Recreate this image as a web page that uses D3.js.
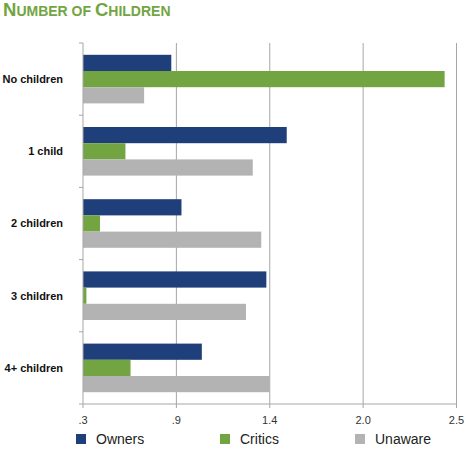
<!DOCTYPE html>
<html><head><meta charset="utf-8">
<script src="https://cdn.jsdelivr.net/npm/d3@7"></script>
<style>body{margin:0;background:#fff}svg{display:block;font-family:"Liberation Sans",Arial,Helvetica,sans-serif}</style>
</head><body><svg id="c" width="466" height="451"></svg>
<script>
const categories = ["No children","1 child","2 children","3 children","4+ children"];
const seriesNames = ["Owners","Critics","Unaware"];
const owners  = [0.82, 1.50, 0.88, 1.38, 1.00];
const critics = [2.43, 0.55, 0.40, 0.32, 0.58];
const unaware = [0.66, 1.30, 1.35, 1.26, 1.40];
const tickValues = [0.3, 0.85, 1.4, 1.95, 2.5];
const tickLabels = [".3", ".9", "1.4", "2.0", "2.5"];
const colors = ["#1f3f7b", "#72a541", "#b3b3b3"];

const seriesData = [owners, critics, unaware];
const svg = d3.select("#c");
const mLeft = 83, mRight = 456.5, mTop = 43, mBottom = 404;

const x = d3.scaleLinear().domain([0.3, 2.5]).range([mLeft, mRight]);
const y = d3.scaleBand().domain(categories).range([mTop, mBottom]);
const y1 = d3.scaleBand().domain(seriesNames).range([11.8, y.bandwidth() - 11.8]);

// title
const t = svg.append("text").attr("x", 3).attr("y", 16).attr("fill", "#72a541")
  .attr("font-weight", "bold");
[["N",18.5],["UMBER OF ",14],["C",18.5],["HILDREN",14]].forEach(([s,f]) =>
  t.append("tspan").attr("font-size", f).text(s));

// gridlines
svg.append("g").selectAll("line").data(tickValues.slice(1)).join("line")
  .attr("x1", d => x(d)).attr("x2", d => x(d))
  .attr("y1", mTop).attr("y2", mBottom + 4)
  .attr("stroke", "#a6a6a6").attr("stroke-width", 1);

// bars
const g = svg.append("g").selectAll("g").data(categories).join("g")
  .attr("transform", d => `translate(0,${y(d)})`);
g.selectAll("rect").data((d, i) => seriesNames.map((s, j) => ({s, v: seriesData[j][i], j})))
  .join("rect")
  .attr("x", x(0.3)).attr("y", d => y1(d.s))
  .attr("width", d => x(d.v) - x(0.3)).attr("height", y1.bandwidth())
  .attr("fill", d => colors[d.j]);

// y axis
svg.append("line").attr("x1", mLeft).attr("x2", mLeft).attr("y1", mTop).attr("y2", mBottom + 4)
  .attr("stroke", "#a6a6a6");
const bounds = categories.map(c => y(c)).concat([mBottom]);
svg.append("g").selectAll("line").data(bounds).join("line")
  .attr("x1", mLeft - 4).attr("x2", mLeft).attr("y1", d => d).attr("y2", d => d)
  .attr("stroke", "#a6a6a6");
// x axis line
svg.append("line").attr("x1", mLeft).attr("x2", mRight).attr("y1", mBottom).attr("y2", mBottom)
  .attr("stroke", "#a6a6a6");

// category labels
svg.append("g").selectAll("text").data(categories).join("text")
  .attr("x", 63).attr("y", d => y(d) + y1("Critics") + y1.bandwidth() / 2)
  .attr("dy", "0.35em").attr("text-anchor", "end")
  .attr("font-size", 11).attr("font-weight", "bold").attr("fill", "#111")
  .text(d => d);

// tick labels
svg.append("g").selectAll("text").data(tickValues).join("text")
  .attr("x", d => x(d)).attr("y", 424).attr("text-anchor", "middle")
  .attr("font-size", 11).attr("fill", "#333")
  .text((d, i) => tickLabels[i]);

// legend
const legX = [76, 220, 355];
const lg = svg.append("g").selectAll("g").data(seriesNames).join("g")
  .attr("transform", (d, i) => `translate(${legX[i]},0)`);
lg.append("rect").attr("x", 0).attr("y", 434).attr("width", 10).attr("height", 10)
  .attr("fill", (d, i) => colors[i]);
lg.append("text").attr("x", 20).attr("y", 444).attr("font-size", 14).attr("fill", "#222")
  .text(d => d);
</script></body></html>
